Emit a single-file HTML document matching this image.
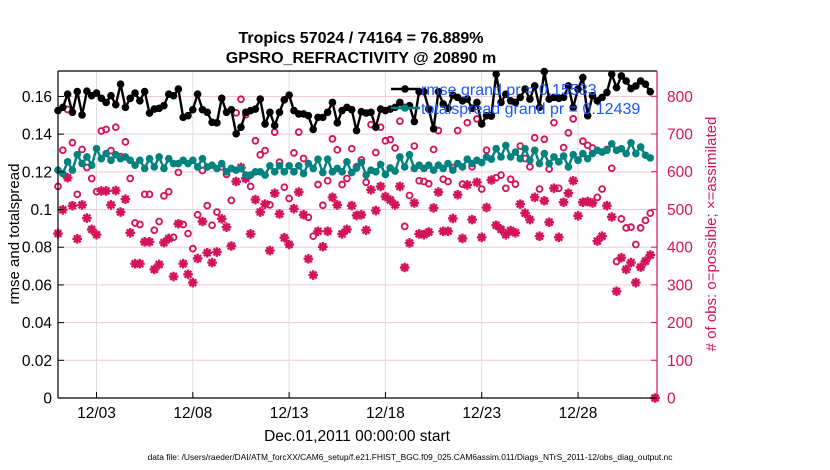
<!DOCTYPE html>
<html><head><meta charset="utf-8"><style>
html,body{margin:0;padding:0;background:#fff;}
svg{display:block;font-family:"Liberation Sans",Arial,sans-serif;}
</style></head><body>
<svg id="chart" width="830" height="470" viewBox="0 0 830 470" xmlns="http://www.w3.org/2000/svg">
<text x="361" y="43" text-anchor="middle" font-size="16" font-weight="bold">Tropics 57024 / 74164 = 76.889%</text>
<text x="361" y="63" text-anchor="middle" font-size="16" font-weight="bold">GPSRO_REFRACTIVITY @ 20890 m</text>
<g id="grid"></g>
<g id="series"></g>
<g id="axes"></g>
<text transform="translate(19,234) rotate(-90)" text-anchor="middle" font-size="15">rmse and totalspread</text>
<text transform="translate(716,234) rotate(-90)" text-anchor="middle" font-size="15" fill="#d4145a"># of obs: o=possible; ×=assimilated</text>
<text x="357" y="441" text-anchor="middle" font-size="15.5">Dec.01,2011 00:00:00 start</text>
<text x="410" y="460" text-anchor="middle" font-size="8.4">data file: /Users/raeder/DAI/ATM_forcXX/CAM6_setup/f.e21.FHIST_BGC.f09_025.CAM6assim.011/Diags_NTrS_2011-12/obs_diag_output.nc</text>
<g id="legend"></g>
</svg>
<script>
const rmse = [0.1525,0.1542,0.1612,0.1516,0.1626,0.1502,0.1628,0.1604,0.1618,0.159,0.1568,0.1604,0.1556,0.1665,0.1542,0.159,0.1618,0.1577,0.1626,0.1512,0.1533,0.1537,0.1551,0.1612,0.1604,0.1639,0.1489,0.1498,0.153,0.1612,0.153,0.1516,
0.1463,0.146,0.159,0.1516,0.153,0.1402,0.1437,0.1516,0.1525,0.1533,0.1586,0.1454,0.1516,0.1446,0.1516,0.1582,0.1607,0.1525,0.1507,0.1507,0.1498,0.1425,0.1489,0.1489,0.1516,0.1568,0.146,0.1525,0.1542,0.153,0.1419,
0.1519,0.1512,0.1516,0.1437,0.1533,0.1525,0.1533,0.1542,0.1568,0.1542,0.1551,0.1467,0.1625,0.1625,0.1533,0.1428,0.1625,0.156,0.1537,0.1607,0.1595,0.1577,0.1586,0.1537,0.1568,0.1454,0.1498,0.1498,0.1718,0.1568,
0.1612,0.1577,0.1568,0.1595,0.1639,0.1586,0.1656,0.1542,0.1732,0.1586,0.1595,0.159,0.1595,0.1656,0.1542,0.1639,0.17,0.1498,0.1604,0.1577,0.1595,0.1621,0.1718,0.1647,0.1709,0.1682,0.1642,0.1656,0.1682,0.1665,0.1625];
const spread = [0.1209,0.1191,0.1253,0.1209,0.1291,0.1244,0.1279,0.1235,0.1323,0.127,0.1297,0.1261,0.1291,0.127,0.1279,0.1261,0.1235,0.1261,0.1218,0.127,0.1226,0.1279,0.1218,0.127,0.1244,0.1244,0.1261,0.1244,0.1261,0.1226,0.127,0.1226,
0.1235,0.1218,0.1244,0.12,0.1218,0.1209,0.1218,0.1183,0.1183,0.12,0.12,0.1183,0.1232,0.12,0.1232,0.12,0.1232,0.12,0.1232,0.1191,0.1244,0.1218,0.1267,0.1196,0.1267,0.12,0.1218,0.12,0.1253,0.1196,0.122,
0.1249,0.1183,0.1209,0.12,0.1239,0.1186,0.1221,0.1204,0.1279,0.1226,0.1291,0.1218,0.1235,0.1218,0.1235,0.1209,0.1235,0.1218,0.1244,0.1209,0.1244,0.1226,0.1267,0.1244,0.1261,0.1249,0.1279,0.1267,0.1323,0.1279,
0.134,0.1279,0.1305,0.127,0.1323,0.1261,0.1314,0.1244,0.1297,0.1244,0.1279,0.1253,0.1284,0.1226,0.1291,0.1261,0.1297,0.127,0.1297,0.1314,0.1305,0.1314,0.1349,0.1314,0.1323,0.1297,0.1354,0.1297,0.1332,0.1288,0.1274];
const possible = [561,657,765,677,540,659,611,582,547,708,712,656,718,640,679,582,464,460,540,540,445,468,536,547,426,598,460,436,396,486,603,510,
458,493,613,593,524,756,792,751,561,682,645,656,512,705,625,559,529,650,705,635,479,429,566,511,576,687,658,566,582,661,613,
631,572,725,651,718,682,685,663,734,455,537,668,576,574,568,659,709,580,574,611,709,567,730,613,740,554,657,747,584,591,
556,580,567,668,635,613,690,554,686,607,730,556,664,703,740,631,681,670,663,532,554,659,609,362,475,451,453,407,451,471,490,0];
const assimilated = [436,499,584,510,422,512,477,447,433,549,549,512,550,493,527,438,356,356,414,414,341,354,412,423,322,462,356,328,306,370,468,385,
359,387,475,453,403,574,611,582,435,526,493,514,391,543,488,425,407,502,546,486,369,326,442,401,442,532,512,435,447,510,484,
486,445,552,497,561,534,525,512,561,346,411,517,435,433,440,504,546,442,442,476,539,423,565,473,572,426,505,578,458,447,
433,444,438,514,490,473,532,429,523,466,556,426,519,543,576,483,519,521,517,416,429,510,480,283,372,341,359,306,347,363,379,0];
const leftTicks = [0,0.02,0.04,0.06,0.08,0.1,0.12,0.14,0.16];
const leftTickLabels = ["0","0.02","0.04","0.06","0.08","0.1","0.12","0.14","0.16"];
const rightTicks = [0,100,200,300,400,500,600,700,800];
const xTickDays = [2,7,12,17,22,27];
const xTickLabels = ["12/03","12/08","12/13","12/18","12/23","12/28"];
const legendLabels = ["rmse grand pr = 0.15533","totalspread grand pr = 0.12439"];

const NS="http://www.w3.org/2000/svg";
const L=58,R=657,T=71,B=398;
const X0=0,X1=31.1,STEP=0.25;
const YMAX=0.1735, CMAX=867;
const MAG="#d4145a", TEAL="#00827f";
function xs(d){return L+(d-X0)/(X1-X0)*(R-L);}
function yl(v){return B-v/YMAX*(B-T);}
function yr(c){return B-c/CMAX*(B-T);}
function mk(tag,attrs,parent){const e=document.createElementNS(NS,tag);for(const k in attrs)e.setAttribute(k,attrs[k]);parent.appendChild(e);return e;}
const grid=document.getElementById('grid'),ser=document.getElementById('series'),ax=document.getElementById('axes'),leg=document.getElementById('legend');

leftTicks.forEach((v,i)=>{
  const y=yl(v);
  if(i>0){const g=mk('line',{x1:L,x2:R,y1:y,y2:y,stroke:'#f2c9d8','stroke-width':1},grid);
  
  }
  const t=mk('line',{x1:L,x2:L+6,y1:y,y2:y,stroke:'#000','stroke-width':1},ax);
  
  
  const tx=mk('text',{x:L-6,y:y+5.5,'text-anchor':'end','font-size':15.5},ax);tx.textContent=leftTickLabels[i];
  
  
});
rightTicks.forEach(c=>{
  const y=yr(c);
  const t=mk('line',{x1:R-6,x2:R,y1:y,y2:y,stroke:MAG,'stroke-width':1},ax);
  
  
  const tx=mk('text',{x:R+10,y:y+5.5,'font-size':15.5,fill:MAG},ax);tx.textContent=String(c);
  
  
});
xTickDays.forEach((d,i)=>{
  const x=xs(d);
  const g=mk('line',{x1:x,x2:x,y1:T,y2:B,stroke:'#dcdcdc','stroke-width':1},grid);
  
  
  const t=mk('line',{x1:x,x2:x,y1:B-6,y2:B,stroke:'#000'},ax);
  
  
  const tx=mk('text',{x:x,y:B+20,'text-anchor':'middle','font-size':15.5},ax);tx.textContent=xTickLabels[i];
  
  
});
const frame=[[L,T,R,T,'#000'],[L,T,L,B,'#000'],[L,B,R,B,'#000'],[R,T,R,B,MAG]];
frame.forEach(f=>{const a=mk('line',{x1:f[0],y1:f[1],x2:f[2],y2:f[3],stroke:f[4],'stroke-width':1.2},ax);
  
  });

function star(x,y,p){
  const s=4.8,d=3.4;
  return mk('path',{d:`M${x-s},${y}H${x+s}M${x},${y-s}V${y+s}M${x-d},${y-d}L${x+d},${y+d}M${x-d},${y+d}L${x+d},${y-d}`,stroke:MAG,'stroke-width':2.4,fill:'none'},p);
}
possible.forEach((c,k)=>{
  const e=mk('circle',{cx:xs(k*STEP),cy:yr(c),r:2.9,fill:'none',stroke:MAG,'stroke-width':1.9},ser);
  
  
});
assimilated.forEach((c,k)=>{
  const e=star(xs(k*STEP),yr(c),ser);
  
  
});
function lineSeries(arr,color,name){
  const pts=arr.map((v,k)=>xs(k*STEP).toFixed(1)+','+yl(v).toFixed(1)).join(' ');
  const pl=mk('polyline',{points:pts,fill:'none',stroke:color,'stroke-width':2.4},ser);
  
  
  arr.forEach((v,k)=>{
    const c=mk('circle',{cx:xs(k*STEP),cy:yl(v),r:3.8,fill:color},ser);
    
    
  });
}
lineSeries(spread,TEAL,'totalspread');
lineSeries(rmse,'#000','rmse');

[['#000',89],[TEAL,108]].forEach((e,i)=>{
  const ln=mk('line',{x1:391,x2:420,y1:e[1],y2:e[1],stroke:e[0],'stroke-width':2.4},leg);
  
  
  const c=mk('circle',{cx:405,cy:e[1],r:3.8,fill:e[0]},leg);
  
  
  const t=mk('text',{x:421,y:e[1]+6,'font-size':16,fill:'#1a56ff'},leg);t.textContent=legendLabels[i];
  
  
});
</script>
</body></html>
